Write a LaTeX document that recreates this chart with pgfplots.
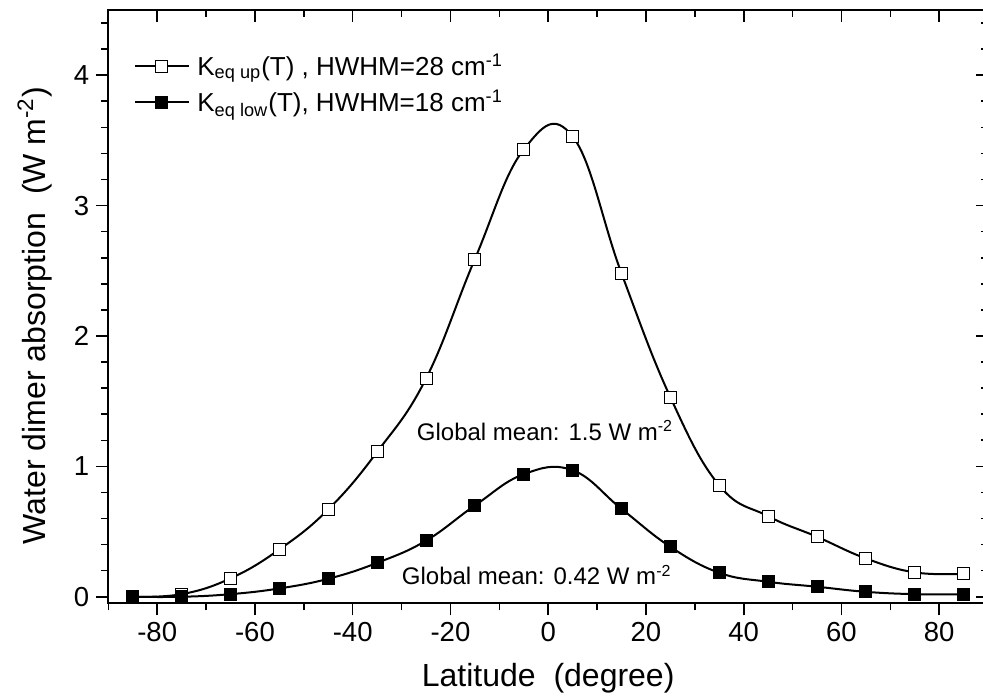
\documentclass[border=0pt]{standalone}
\usepackage{fontspec}
\setmainfont{Liberation Sans}
\usepackage{pgfplots}
\pgfplotsset{compat=1.18}
\begin{document}
\begin{tikzpicture}
\pgfplotsset{
  commonax/.style={
    scale only axis,
    width=439.9pt, height=296.65pt,
    xmin=-90, xmax=90, ymin=-0.05, ymax=4.5,
    xtick={-80,-60,-40,-20,0,20,40,60,80},
    minor xtick={-90,-70,-50,-30,-10,10,30,50,70,90},
    ytick={0,1,2,3,4},
    minor ytick={0.2,0.4,0.6,0.8,1.2,1.4,1.6,1.8,2.2,2.4,2.6,2.8,3.2,3.4,3.6,3.8,4.2,4.4},
    major tick length=6pt, minor tick length=3.5pt,
    axis line style={line width=1pt},
    every tick/.style={black, line width=0.8pt},
    /pgf/number format/assume math mode=true,
    tick label style={font=\fontsize{13.75}{16}\selectfont},
  }
}
\begin{axis}[
  commonax,
  name=main,
  tick align=outside,
  xtick pos=left, ytick pos=left,
  every axis x label/.style={at={(rel axis cs:0.5,0)}, yshift=-37.6pt, anchor=center, font=\fontsize{16}{19}\selectfont},
  every axis y label/.style={at={(rel axis cs:-0.0833,0.485)}, rotate=90, anchor=center, font=\fontsize{16}{19}\selectfont},
  xlabel={Latitude\ \ (degree)},
  ylabel={Water dimer absorption\ \ (W m\textsuperscript{-2})},
  legend style={draw=none, fill=none, at={(rel axis cs:0.0292,0.9316)}, anchor=north west,
    font=\fontsize{13}{15.6}\selectfont, inner sep=0pt, row sep=3pt,
    nodes={inner sep=1.5pt}},
  legend cell align=left,
  legend image code/.code={\draw[mark repeat=2,mark phase=2,#1] plot coordinates {(0pt,0pt) (13.25pt,0pt) (26.5pt,0pt)};},
  clip=false,
]
\addplot[black, line width=1pt, smooth, tension=0.7, mark=square*, mark size=3pt,
  mark options={fill=white, draw=black, line width=0.5pt}] coordinates {
(-85,0.00) (-75,0.02) (-65,0.141) (-55,0.363) (-45,0.670) (-35,1.111) (-25,1.673)
(-15,2.59) (-5,3.43) (5,3.53) (15,2.48) (25,1.53) (35,0.854) (45,0.618)
(55,0.46) (65,0.294) (75,0.187) (85,0.176)};
\addlegendentry{\hspace{2.5pt}K\textsubscript{eq up}(T) , HWHM=28 cm\textsuperscript{-1}}
\addplot[black, line width=1pt, smooth, tension=0.7, mark=square*, mark size=3pt,
  mark options={fill=black, draw=black, line width=0.5pt}] coordinates {
(-85,0.00) (-75,0.00) (-65,0.02) (-55,0.064) (-45,0.138) (-35,0.26) (-25,0.43)
(-15,0.70) (-5,0.94) (5,0.97) (15,0.674) (25,0.383) (35,0.184) (45,0.115)
(55,0.077) (65,0.038) (75,0.02) (85,0.018)};
\addlegendentry{\hspace{2.5pt}K\textsubscript{eq low}(T), HWHM=18 cm\textsuperscript{-1}}
\node[font=\fontsize{12}{14}\selectfont] at (axis cs:-0.65,1.277) {Global mean: 1.5 W m\textsuperscript{-2}};
\node[font=\fontsize{12}{14}\selectfont] at (axis cs:-2.35,0.166) {Global mean: 0.42 W m\textsuperscript{-2}};
\end{axis}
\begin{axis}[
  commonax,
  tick align=inside,
  xtick pos=right, ytick pos=right,
  xticklabels={}, yticklabels={},
]
\end{axis}
\pgfresetboundingbox
\path[use as bounding box] (main.south west) ++(-54.15pt,-47.85pt) rectangle ++(491.5pt,349.5pt);
\end{tikzpicture}
\end{document}
